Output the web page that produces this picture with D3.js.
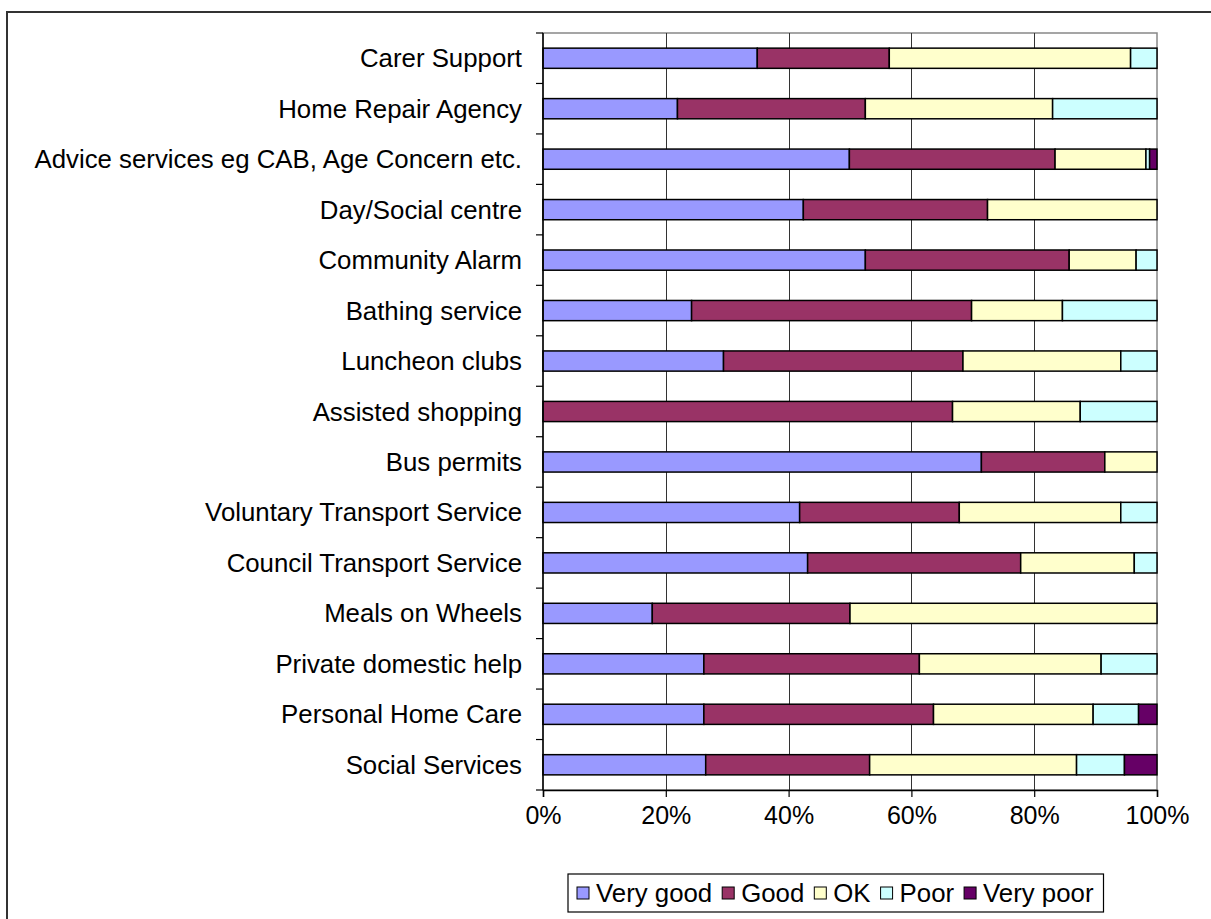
<!DOCTYPE html>
<html>
<head>
<meta charset="utf-8">
<script src="https://cdn.jsdelivr.net/npm/d3@7"></script>
<style>
  body { margin: 0; background: #fff; }
  text { font-family: "Liberation Sans", Arial, sans-serif; fill: #000; }
</style>
</head>
<body>
<script>
// categories top to bottom
const categories = [
    "Carer Support", "Home Repair Agency", "Advice services eg CAB, Age Concern etc.",
    "Day/Social centre", "Community Alarm", "Bathing service", "Luncheon clubs",
    "Assisted shopping", "Bus permits", "Voluntary Transport Service",
    "Council Transport Service", "Meals on Wheels", "Private domestic help",
    "Personal Home Care", "Social Services"
];
const seriesNames = ["Very good", "Good", "OK", "Poor", "Very poor"];
const veryGood = [34.9, 21.9, 49.9, 42.4, 52.5, 24.2, 29.4, 0, 71.4, 41.8, 43.1, 17.8, 26.2, 26.2, 26.5];
const good     = [21.5, 30.6, 33.5, 30.0, 33.2, 45.6, 39.0, 66.7, 20.1, 26.0, 34.7, 32.2, 35.1, 37.4, 26.7];
const ok       = [39.3, 30.5, 14.8, 27.6, 10.9, 14.8, 25.7, 20.8, 8.5, 26.3, 18.5, 50.0, 29.6, 26.0, 33.7];
const poor     = [4.3, 17.0, 0.6, 0, 3.4, 15.4, 5.9, 12.5, 0, 5.9, 3.7, 0, 9.1, 7.4, 7.8];
const veryPoor = [0, 0, 1.2, 0, 0, 0, 0, 0, 0, 0, 0, 0, 0, 3.0, 5.3];
const tickValues = [0, 0.2, 0.4, 0.6, 0.8, 1];
const colors = ["#9999FF", "#993366", "#FFFFCC", "#CCFFFF", "#660066"];

const width = 1211, height = 919;
const plot = { left: 543, right: 1157, top: 33, bottom: 790 };

const rows = categories.map((c, i) => ({
    cat: c,
    "Very good": veryGood[i],
    "Good": good[i],
    "OK": ok[i],
    "Poor": poor[i],
    "Very poor": veryPoor[i]
}));

const stacked = d3.stack().keys(seriesNames).offset(d3.stackOffsetExpand)(rows);

const svg = d3.select("body").append("svg")
    .attr("width", width)
    .attr("height", height);

// outer chart border (right/bottom fall outside the picture)
svg.append("rect")
    .attr("x", 7).attr("y", 12)
    .attr("width", 1300).attr("height", 1000)
    .attr("fill", "none")
    .attr("stroke", "#333")
    .attr("stroke-width", 2);

const x = d3.scaleLinear().domain([0, 1]).range([plot.left, plot.right]);
const y = d3.scaleBand().domain(categories).range([plot.top, plot.bottom])
    .paddingInner(0.6).paddingOuter(0.3);

// plot area border (gray)
svg.append("rect")
    .attr("x", plot.left).attr("y", plot.top)
    .attr("width", plot.right - plot.left).attr("height", plot.bottom - plot.top)
    .attr("fill", "none")
    .attr("stroke", "#888")
    .attr("stroke-width", 1.5);

// gridlines
svg.append("g")
    .selectAll("line")
    .data(tickValues.slice(1, -1))
    .join("line")
    .attr("x1", d => Math.round(x(d)) + 0.5).attr("x2", d => Math.round(x(d)) + 0.5)
    .attr("y1", plot.top).attr("y2", plot.bottom)
    .attr("stroke", "#333")
    .attr("stroke-width", 1);

// bars
svg.append("g")
    .selectAll("g")
    .data(stacked)
    .join("g")
    .attr("fill", (d, i) => colors[i])
    .selectAll("rect")
    .data(d => d.filter(s => s[1] - s[0] > 0))
    .join("rect")
    .attr("x", d => x(d[0]))
    .attr("y", d => y(d.data.cat))
    .attr("width", d => x(d[1]) - x(d[0]))
    .attr("height", y.bandwidth())
    .attr("stroke", "#000")
    .attr("stroke-width", 1.5);

// y axis: line, boundary ticks, labels
const step = y.step();
svg.append("line")
    .attr("x1", plot.left).attr("x2", plot.left)
    .attr("y1", plot.top).attr("y2", plot.bottom)
    .attr("stroke", "#000").attr("stroke-width", 1.5);
svg.append("g")
    .selectAll("line")
    .data(d3.range(categories.length + 1))
    .join("line")
    .attr("x1", plot.left - 7).attr("x2", plot.left)
    .attr("y1", i => plot.top + i * step).attr("y2", i => plot.top + i * step)
    .attr("stroke", "#000").attr("stroke-width", 1.2);
svg.append("g")
    .selectAll("text")
    .data(categories)
    .join("text")
    .attr("x", plot.left - 21)
    .attr("y", d => y(d) + y.bandwidth() / 2)
    .attr("dy", "0.35em")
    .attr("text-anchor", "end")
    .attr("font-size", "25.8px")
    .text(d => d);

// x axis
const xAxis = svg.append("g")
    .attr("transform", `translate(0,${plot.bottom})`)
    .call(d3.axisBottom(x).tickValues(tickValues).tickFormat(d3.format(".0%")).tickSize(7).tickPadding(9));
xAxis.select(".domain").attr("stroke", "#000").attr("stroke-width", 1.5);
xAxis.selectAll(".tick line").attr("stroke", "#000").attr("stroke-width", 1.2);
xAxis.selectAll(".tick text")
    .attr("font-size", "25px")
    .attr("font-family", "'Liberation Sans', Arial, sans-serif")
    .attr("fill", "#000");

// legend
const legend = svg.append("g");
const legendBox = legend.append("rect")
    .attr("x", 568).attr("y", 874)
    .attr("height", 38)
    .attr("fill", "#fff")
    .attr("stroke", "#000")
    .attr("stroke-width", 1.2);
let lx = 568 + 9;
seriesNames.forEach((name, i) => {
    legend.append("rect")
        .attr("x", lx).attr("y", 887)
        .attr("width", 12).attr("height", 12)
        .attr("fill", colors[i])
        .attr("stroke", "#000").attr("stroke-width", 1);
    const t = legend.append("text")
        .attr("x", lx + 19).attr("y", 893)
        .attr("dy", "0.35em")
        .attr("font-size", "25.8px")
        .text(name);
    lx += 19 + t.node().getComputedTextLength() + 10;
});
legendBox.attr("width", lx - 568);
</script>
</body>
</html>
